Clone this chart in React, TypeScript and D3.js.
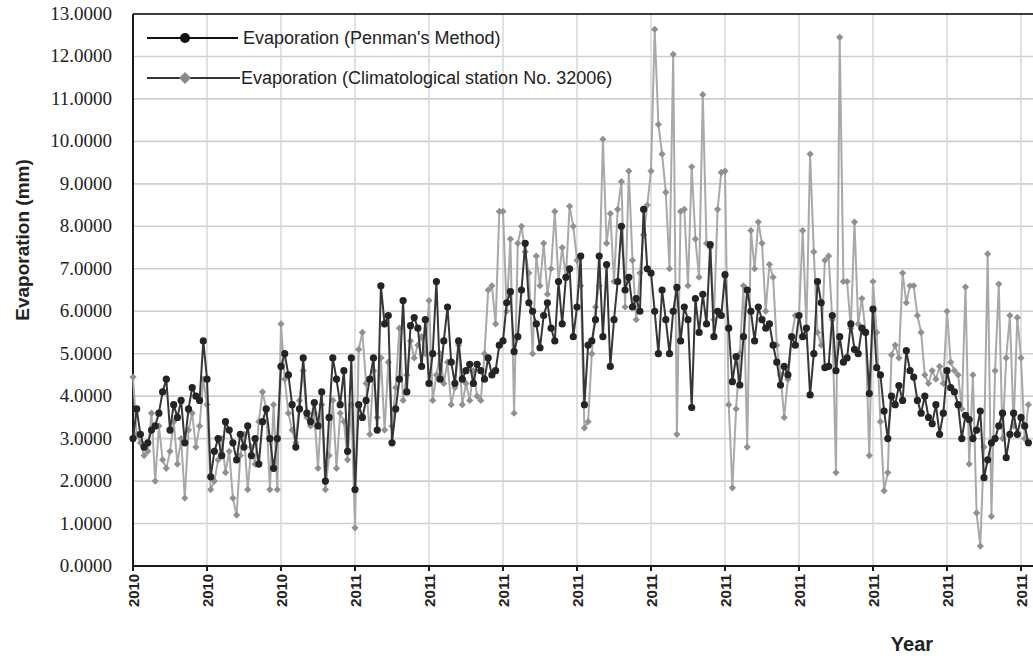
import React from "react";
import * as d3 from "d3";

const penman: number[] = [
  3.0, 3.7, 3.1, 2.8, 2.9, 3.2, 3.3, 3.6, 4.1, 4.4, 3.2, 3.8, 3.5, 3.9, 2.9, 3.7, 4.2, 4.0, 3.9, 5.3,
  4.4, 2.1, 2.7, 3.0, 2.6, 3.4, 3.2, 2.9, 2.5, 3.1, 2.8, 3.3, 2.6, 3.0, 2.4, 3.4, 3.7, 3.0, 2.3, 3.0,
  4.7, 5.0, 4.5, 3.8, 2.8, 3.7, 4.9, 3.6, 3.4, 3.85, 3.3, 4.1, 2.0, 3.5, 4.9, 4.4, 3.8, 4.6, 2.7, 4.9,
  1.8, 3.8, 3.5, 3.9, 4.4, 4.9, 3.2, 6.6, 5.7, 5.9, 2.9, 3.7, 4.4, 6.25, 4.1, 5.66, 5.85, 5.6, 4.7, 5.8,
  4.3, 5.0, 6.7, 4.4, 5.3, 6.1, 4.8, 4.3, 5.3, 4.4, 4.6, 4.75, 4.3, 4.75, 4.6, 4.4, 4.9, 4.5, 4.6, 5.2,
  5.3, 6.2, 6.46, 5.05, 5.4, 6.5, 7.6, 6.2, 6.0, 5.7, 5.14, 5.9, 6.2, 5.6, 5.3, 6.7, 5.7, 6.8, 7.0, 5.4,
  6.1, 7.3, 3.8, 5.2, 5.3, 5.8, 7.3, 5.4, 7.1, 4.7, 5.8, 6.7, 8.0, 6.5, 6.8, 6.1, 6.3, 6.0, 8.4, 7.0,
  6.9, 6.0, 5.0, 6.5, 5.8, 5.0, 6.0, 6.56, 5.3, 6.1, 5.8, 3.73, 6.3, 5.5, 6.4, 5.7, 7.57, 5.4, 6.0, 5.9,
  6.86, 5.6, 4.34, 4.93, 4.26, 5.4, 6.5, 6.0, 5.3, 6.1, 5.8, 5.6, 5.7, 5.2, 4.8, 4.26, 4.7, 4.5, 5.4, 5.2,
  5.9, 5.4, 5.6, 4.03, 5.0, 6.7, 6.2, 4.67, 4.7, 5.9, 4.6, 5.4, 4.8, 4.9, 5.7, 5.1, 5.0, 5.6, 5.5, 4.06,
  6.05, 4.67, 4.5, 3.65, 3.0, 4.0, 3.8, 4.25, 3.9, 5.07, 4.6, 4.45, 3.9, 3.6, 4.0, 3.5, 3.35, 3.8, 3.1, 3.6,
  4.6, 4.2, 4.1, 3.8, 3.0, 3.55, 3.45, 3.0, 3.2, 3.65, 2.08, 2.5, 2.9, 3.0, 3.3, 3.6, 2.55, 3.1, 3.6, 3.1,
  3.5, 3.3, 2.9,
];

const station: number[] = [
  4.45, 3.1, 2.9, 2.6, 2.7, 3.6, 2.0, 3.3, 2.5, 2.3, 2.7, 3.4, 2.4, 3.0, 1.6, 3.2, 3.6, 2.8, 3.3, 4.4,
  3.8, 1.8, 2.0, 2.5, 3.0, 2.2, 2.7, 1.6, 1.2, 2.6, 3.1, 1.8, 2.8, 2.4, 3.4, 4.1, 3.7, 1.8, 3.8, 1.8,
  5.7, 4.4, 3.6, 3.2, 2.9, 3.9, 4.6, 3.5, 3.3, 3.6, 2.3, 3.8, 1.8, 2.6, 3.9, 2.3, 3.6, 3.4, 2.5, 3.8,
  0.9, 5.1, 5.5, 4.3, 3.1, 4.6, 3.5, 4.9, 3.2, 4.8, 3.3, 4.2, 5.6, 3.9, 4.5, 5.3, 4.9, 5.2, 5.4, 5.0,
  6.25, 3.9, 4.5, 5.0, 4.3, 4.8, 3.8, 4.2, 5.2, 3.8, 4.3, 3.9, 4.6, 4.0, 3.9, 5.0, 6.5, 6.6, 5.7, 8.35,
  8.35, 6.0, 7.7, 3.6, 7.6, 8.0, 7.4, 6.9, 5.0, 7.3, 6.6, 7.6, 6.4, 7.0, 8.35, 6.7, 7.5, 6.8, 8.47, 8.0,
  7.2, 6.6, 3.25, 3.4, 5.0, 6.1, 6.6, 10.05, 7.6, 8.3, 6.7, 8.4, 9.05, 6.1, 9.3, 7.2, 5.8, 6.9, 7.8, 8.5,
  9.3, 12.64, 10.4, 9.7, 8.8, 7.0, 12.05, 3.1, 8.35, 8.4, 6.6, 9.4, 7.7, 6.8, 11.1, 7.6, 7.5, 5.8, 8.4, 9.27,
  9.3, 3.8, 1.84, 3.7, 5.0, 6.6, 2.8, 7.9, 7.0, 8.1, 7.6, 6.0, 7.1, 6.8, 5.2, 4.5, 3.5, 4.4, 5.4, 5.9,
  5.9, 7.9, 5.6, 9.7, 7.4, 5.5, 5.2, 7.2, 7.3, 5.8, 2.2, 12.45, 6.7, 6.7, 5.6, 8.1, 5.7, 6.3, 5.5, 2.6,
  6.7, 5.5, 3.4, 1.77, 2.2, 4.97, 5.2, 4.9, 6.9, 6.2, 6.6, 6.6, 5.9, 5.5, 4.5, 4.3, 4.6, 4.4, 4.7, 4.3,
  6.0, 4.8, 4.6, 4.5, 3.7, 6.57, 2.4, 4.5, 1.25, 0.47, 2.8, 7.35, 1.17, 4.6, 6.64, 3.0, 4.9, 5.9, 3.3, 5.85,
  4.9, 3.0, 3.8,
];

const xTickLabels: string[] = [
  "2010", "2010", "2010", "2011", "2011", "2011", "2011",
  "2011", "2011", "2011", "2011", "2011", "2011",
];
const pointsPerTick = 20;
const yTicks: number[] = d3.range(0, 14, 1);

const seriesNames: string[] = [
  "Evaporation (Penman's Method)",
  "Evaporation (Climatological station No. 32006)",
];

const W = 1033;
const H = 656;
const left = 133;
const top = 14;
const bottom = 566;

export default function App() {
  const x = d3.scaleLinear().domain([0, 240]).range([left, 1021]);
  const y = d3.scaleLinear().domain([0, 13]).range([bottom, top]);
  const line = d3
    .line<number>()
    .x((_, i) => x(i))
    .y((d) => y(d));
  const tickIdx = xTickLabels.map((_, i) => i * pointsPerTick);
  const diamond = (cx: number, cy: number, s: number) =>
    `M${cx},${cy - s}L${cx + s},${cy}L${cx},${cy + s}L${cx - s},${cy}Z`;
  const darkLine = "#363636";
  const darkMark = "#242424";
  const grayLine = "#a9a9a9";
  const grayMark = "#909090";

  return (
    <svg
      width={W}
      height={H}
      style={{ position: "absolute", left: 0, top: 0, background: "#fff" }}
    >
      <rect x={0} y={0} width={W} height={H} fill="#fff" />
      {/* grid */}
      {yTicks.slice(1).map((t) => (
        <line key={"gy" + t} x1={left} x2={W} y1={y(t)} y2={y(t)} stroke="#cfcfcf" strokeWidth={1.6} />
      ))}
      {tickIdx.slice(1).map((t) => (
        <line key={"gx" + t} x1={x(t)} x2={x(t)} y1={top} y2={bottom} stroke="#d4d4d4" strokeWidth={1.4} />
      ))}
      {/* frame */}
      <line x1={left} x2={W} y1={top} y2={top} stroke="#3c3c3c" strokeWidth={2} />
      <line x1={left} x2={left} y1={top} y2={bottom} stroke="#1a1a1a" strokeWidth={2} />
      <line x1={left} x2={W} y1={bottom} y2={bottom} stroke="#1a1a1a" strokeWidth={2} />
      {/* x ticks */}
      {tickIdx.map((t, i) => (
        <g key={"xt" + i}>
          <line x1={x(t)} x2={x(t)} y1={bottom} y2={bottom + 5} stroke="#1a1a1a" strokeWidth={2} />
          <text
            transform={`translate(${x(t) + 5.5},${bottom + 8}) rotate(-90)`}
            textAnchor="end"
            fontFamily="'Liberation Sans Narrow', 'Arial Narrow', 'Liberation Sans', Arial, sans-serif"
            fontWeight="bold"
            fontSize={15}
            textLength={33}
            lengthAdjust="spacingAndGlyphs"
            fill="#222"
          >
            {xTickLabels[i]}
          </text>
        </g>
      ))}
      {/* y tick labels */}
      {yTicks.map((t) => (
        <text
          key={"yt" + t}
          x={112}
          y={y(t) + 6}
          textAnchor="end"
          fontFamily="'Liberation Serif', 'Times New Roman', serif"
          fontSize={19}
          fill="#222"
        >
          {d3.format(".4f")(t)}
        </text>
      ))}
      {/* axis titles */}
      <text
        transform={`translate(29,240) rotate(-90)`}
        textAnchor="middle"
        fontFamily="'Liberation Sans', Arial, sans-serif"
        fontWeight="bold"
        fontSize={19}
        fill="#222"
      >
        Evaporation (mm)
      </text>
      <text
        x={912}
        y={651}
        textAnchor="middle"
        fontFamily="'Liberation Sans', Arial, sans-serif"
        fontWeight="bold"
        fontSize={20}
        fill="#222"
      >
        Year
      </text>
      {/* series */}
      <path d={line(station) || ""} fill="none" stroke={grayLine} strokeWidth={2} />
      {station.map((v, i) => (
        <path key={"sm" + i} d={diamond(x(i), y(v), 3.6)} fill={grayMark} />
      ))}
      <path d={line(penman) || ""} fill="none" stroke={darkLine} strokeWidth={2} />
      {penman.map((v, i) => (
        <circle key={"pm" + i} cx={x(i)} cy={y(v)} r={3.6} fill={darkMark} />
      ))}
      {/* legend */}
      <g fontFamily="'Liberation Sans', Arial, sans-serif" fontSize={18} fill="#222">
        <line x1={147} x2={238} y1={38} y2={38} stroke="#111" strokeWidth={2} />
        <circle cx={185} cy={38} r={5} fill="#111" />
        <text x={243} y={44}>{seriesNames[0]}</text>
        <line x1={147} x2={240} y1={78} y2={78} stroke="#333" strokeWidth={2} />
        <path d={diamond(185, 78, 6)} fill="#8a8a8a" />
        <text x={241} y={84}>{seriesNames[1]}</text>
      </g>
    </svg>
  );
}
